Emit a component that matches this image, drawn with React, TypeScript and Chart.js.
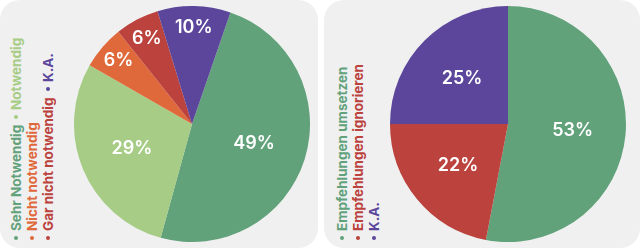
import React, { useEffect, useRef } from "react";
import { Chart, registerables } from "chart.js";
Chart.register(...registerables);

const leftLabels = ["Sehr Notwendig", "Notwendig", "Nicht notwendig", "Gar nicht notwendig", "K.A."];
const leftValues = [49, 29, 6, 6, 10];
const leftColors = ["#62a27b", "#a6cc85", "#e0693b", "#bb423d", "#5b469b"];

const rightLabels = ["Empfehlungen umsetzen", "Empfehlungen ignorieren", "K.A."];
const rightValues = [53, 22, 25];
const rightColors = ["#62a27b", "#bb423d", "#5b469b"];

const FONT = "Inter, 'Open Sans', sans-serif";

const labelPlugin = {
  id: "pctLabels",
  afterDatasetsDraw(chart: any) {
    const ctx = chart.ctx;
    const meta = chart.getDatasetMeta(0);
    const data = chart.data.datasets[0].data as number[];
    const total = data.reduce((a, b) => a + b, 0);
    ctx.save();
    ctx.fillStyle = "#ffffff";
    ctx.font = `600 18px ${FONT}`;
    ctx.textAlign = "center";
    ctx.textBaseline = "middle";
    meta.data.forEach((arc: any, i: number) => {
      const { x, y, startAngle, endAngle, outerRadius } = arc.getProps(
        ["x", "y", "startAngle", "endAngle", "outerRadius"],
        true
      );
      const pct = (data[i] / total) * 100;
      const mid = (startAngle + endAngle) / 2;
      const r = outerRadius * (pct < 15 ? 0.82 : 0.55);
      ctx.fillText(Math.round(pct) + "%", x + Math.cos(mid) * r, y + Math.sin(mid) * r);
    });
    ctx.restore();
  },
};

type PanelProps = {
  labels: string[];
  values: number[];
  colors: string[];
  rotation: number;
  left: number;
  width: number;
  pieLeft: number;
  legendLeft: number;
};

function PiePanel(p: PanelProps) {
  const ref = useRef<HTMLCanvasElement | null>(null);
  useEffect(() => {
    if (!ref.current) return;
    const chart = new Chart(ref.current, {
      type: "pie",
      data: {
        labels: p.labels,
        datasets: [
          {
            data: p.values,
            backgroundColor: p.colors,
            borderWidth: 0,
          },
        ],
      },
      options: {
        animation: false,
        responsive: false,
        rotation: p.rotation,
        layout: { padding: 0 },
        plugins: { legend: { display: false }, tooltip: { enabled: false } },
      },
      plugins: [labelPlugin],
    });
    return () => chart.destroy();
  }, []);

  return (
    <div
      style={{
        position: "absolute",
        left: p.left,
        top: 0,
        width: p.width,
        height: 248,
        borderRadius: 20,
        background: "#f0f0f0",
        overflow: "hidden",
      }}
    >
      <canvas
        ref={ref}
        width={236}
        height={236}
        style={{ position: "absolute", left: p.pieLeft, top: 6, width: 236, height: 236 }}
      />
      <div
        style={{
          position: "absolute",
          left: p.legendLeft,
          top: 20,
          height: 220,
          writingMode: "vertical-rl",
          transform: "rotate(180deg)",
          transformOrigin: "center center",
          display: "flex",
          flexWrap: "wrap",
          alignContent: "flex-start",
          fontFamily: FONT,
          fontWeight: 700,
          fontSize: 13.5,
          lineHeight: "16px",
        }}
      >
        {p.labels.map((l, i) => (
          <div
            key={l}
            style={{
              display: "flex",
              alignItems: "center",
              color: p.colors[i],
              marginInlineEnd: 6,
              whiteSpace: "nowrap",
            }}
          >
            <span
              style={{
                display: "inline-block",
                width: 4,
                height: 4,
                borderRadius: 2,
                background: p.colors[i],
                marginInlineEnd: 5,
              }}
            />
            <span>{l}</span>
          </div>
        ))}
      </div>
    </div>
  );
}

export default function App() {
  return (
    <div style={{ position: "fixed", left: 0, top: 0, width: 640, height: 248, background: "#ffffff" }}>
      <PiePanel
        labels={leftLabels}
        values={leftValues}
        colors={leftColors}
        rotation={19}
        left={0}
        width={318}
        pieLeft={74}
        legendLeft={8}
      />
      <PiePanel
        labels={rightLabels}
        values={rightValues}
        colors={rightColors}
        rotation={0}
        left={324}
        width={316}
        pieLeft={66}
        legendLeft={10}
      />
    </div>
  );
}
